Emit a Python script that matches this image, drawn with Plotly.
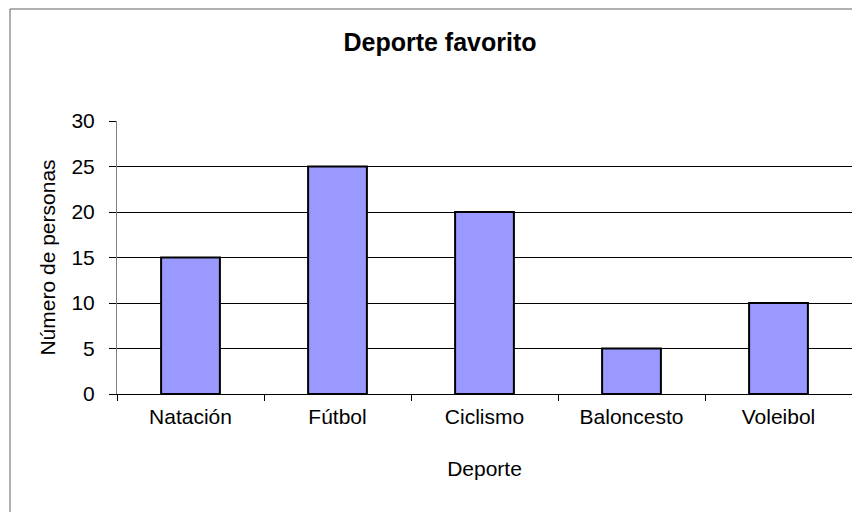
import plotly.graph_objects as go

categorias = ["Natación", "Fútbol", "Ciclismo", "Baloncesto", "Voleibol"]
personas = [15, 25, 20, 5, 10]
y_ticks = [0, 5, 10, 15, 20, 25, 30]

# the page adds an 8px body margin, so the figure is sized to the visible area
W, H = 852, 504
L, R, T, B = 109, 8, 113, 118
pw, ph = W - L - R, H - T - B

def px(x):
    return (x - L) / pw

def py(y):
    return (H - B - y) / ph

fig = go.Figure(go.Bar(
    x=categorias, y=personas,
    marker=dict(color="#9999FF", line=dict(color="black", width=2)),
))

fig.update_layout(
    width=W, height=H,
    margin=dict(l=L, r=R, t=T, b=B),
    paper_bgcolor="white", plot_bgcolor="white",
    font=dict(family="Arial, Liberation Sans, sans-serif", color="black", size=21),
    bargap=0.6,
    showlegend=False,
    title=dict(text="<b>Deporte favorito</b>", x=432 / W, xref="container", xanchor="center",
               y=1 - 34 / H, yref="container", yanchor="middle",
               font=dict(size=25, color="black")),
    xaxis=dict(
        tickson="boundaries", ticks="outside", ticklen=6, tickcolor="black",
        showline=True, linecolor="black", linewidth=1, showgrid=False,
        ticklabelstandoff=4,
        title=dict(text="Deporte", standoff=34, font=dict(size=21)),
        tickfont=dict(size=21),
    ),
    yaxis=dict(
        range=[0, 30], tickvals=y_ticks, ticks="outside", ticklen=7, tickcolor="black",
        showline=True, linecolor="#808080", linewidth=1,
        showgrid=True, gridcolor="black", gridwidth=1, zeroline=False,
        ticklabelstandoff=10,
        title=dict(text="Número de personas", standoff=10, font=dict(size=21)),
        tickfont=dict(size=21),
    ),
    shapes=[
        dict(type="line", xref="paper", yref="paper", x0=px(2), x1=px(W + 5), y0=py(1), y1=py(1),
             line=dict(color="#606060", width=1)),
        dict(type="line", xref="paper", yref="paper", x0=px(2), x1=px(2), y0=py(1), y1=py(H + 5),
             line=dict(color="#606060", width=1)),
    ],
)

fig.write_html("out.html")
